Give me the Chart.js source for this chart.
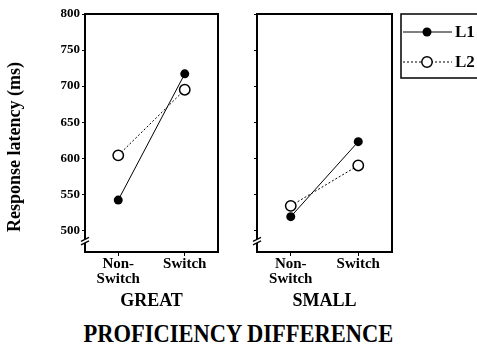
<!DOCTYPE html>
<html>
<head>
<meta charset="utf-8">
<script src="https://cdn.jsdelivr.net/npm/chart.js@4/dist/chart.umd.min.js"></script>
<style>
  body { margin: 0; background: #fff; }
  #wrap { position: relative; width: 477px; height: 347px; overflow: hidden; font-family: 'Liberation Serif', 'Times New Roman', serif; font-weight: bold; color: #000; }
  .panel { position: absolute; top: 0; }
  #ytitle { position: absolute; left: 14px; top: 147px; transform: translate(-50%, -50%) rotate(-90deg); white-space: nowrap; font-size: 18px; line-height: 18px; }
  #xtitle { position: absolute; left: 0; top: 321px; width: 477px; text-align: center; font-size: 25px; line-height: 25px; white-space: nowrap; transform: scaleX(0.9); transform-origin: 238px 0; }
  #legend { position: absolute; left: 0; top: 0; }
</style>
</head>
<body>
<div id="wrap">
  <canvas id="great" class="panel" width="225" height="310" style="left:0"></canvas>
  <canvas id="small" class="panel" width="170" height="310" style="left:230px"></canvas>
  <div id="ytitle">Response latency (ms)</div>
  <div id="xtitle">PROFICIENCY DIFFERENCE</div>
  <svg id="legend" width="477" height="100">
    <rect x="401" y="14" width="90" height="64" fill="none" stroke="#000" stroke-width="1.5"/>
    <line x1="403" y1="32" x2="452" y2="32" stroke="#000" stroke-width="1"/>
    <circle cx="427" cy="32" r="4.5" fill="#000"/>
    <text x="455" y="37" font-family="Liberation Serif" font-weight="bold" font-size="17">L1</text>
    <line x1="403" y1="62" x2="452" y2="62" stroke="#000" stroke-width="1" stroke-dasharray="2 2"/>
    <circle cx="427" cy="62" r="5.2" fill="#fff" stroke="#000" stroke-width="1.5"/>
    <text x="455" y="67" font-family="Liberation Serif" font-weight="bold" font-size="17">L2</text>
  </svg>
</div>
<script>
// data (ms)
const categories = [['Non-', 'Switch'], 'Switch'];
const greatL1 = [542, 717];
const greatL2 = [604, 695];
const smallL1 = [519, 623];
const smallL2 = [534, 590];
const seriesNames = ['L1', 'L2'];
const yMin = 470, yMax = 800, yStep = 50, yFirstTick = 500;
const breakValue = 484;

const FONT = 'Liberation Serif';

// box around plot area + the // axis break
const framePlugin = {
    id: 'frame',
    afterDraw(chart) {
        const ctx = chart.ctx;
        const a = chart.chartArea;
        const by = chart.scales.y.getPixelForValue(breakValue);
        const l = a.left;
        ctx.save();
        ctx.strokeStyle = '#000';
        ctx.lineWidth = 2;
        ctx.strokeRect(a.left, a.top, a.right - a.left, a.bottom - a.top);
        // axis break
        ctx.fillStyle = '#fff';
        ctx.beginPath();
        ctx.moveTo(l - 3.5, by - 1);
        ctx.lineTo(l + 3.5, by - 4.5);
        ctx.lineTo(l + 3.5, by - 1);
        ctx.lineTo(l - 3.5, by + 2.5);
        ctx.closePath();
        ctx.fill();
        ctx.lineWidth = 1.2;
        ctx.beginPath();
        ctx.moveTo(l - 4, by - 0.5); ctx.lineTo(l + 4, by - 4.5);
        ctx.moveTo(l - 4, by + 3); ctx.lineTo(l + 4, by - 1);
        ctx.stroke();
        ctx.restore();
    }
};

function makePanel(id, title, l1, l2, showYLabels, yWidth, padRight) {
    new Chart(document.getElementById(id), {
        type: 'line',
        data: {
            labels: categories,
            datasets: [
                {
                    label: seriesNames[0],
                    data: l1,
                    borderColor: '#000',
                    borderWidth: 1,
                    backgroundColor: '#000',
                    pointRadius: 4.5,
                    pointBorderWidth: 0,
                    pointBackgroundColor: '#000'
                },
                {
                    label: seriesNames[1],
                    data: l2,
                    borderColor: '#000',
                    borderWidth: 1,
                    borderDash: [2, 2],
                    pointRadius: 5.2,
                    pointBorderWidth: 1.5,
                    pointBorderColor: '#000',
                    pointBackgroundColor: '#fff'
                }
            ]
        },
        options: {
            responsive: false,
            animation: false,
            devicePixelRatio: 1,
            layout: { padding: { left: 0, right: padRight, top: 14, bottom: 0 } },
            plugins: { legend: { display: false }, tooltip: { enabled: false } },
            scales: {
                x: {
                    offset: true,
                    border: { display: false },
                    grid: { display: true, drawOnChartArea: false, drawTicks: true, tickLength: 4, color: '#000' },
                    ticks: {
                        color: '#000', padding: 1, maxRotation: 0, autoSkip: false,
                        font: { family: FONT, size: 15, weight: 'bold', lineHeight: 1 }
                    },
                    title: {
                        display: true, text: title, color: '#000', padding: 0,
                        font: { family: FONT, size: 18, weight: 'bold', lineHeight: 1 }
                    },
                    afterFit(scale) { scale.height = 58; }
                },
                y: {
                    min: yMin,
                    max: yMax,
                    border: { display: false },
                    grid: { display: true, drawOnChartArea: false, drawTicks: true, tickLength: 3, color: '#000' },
                    ticks: {
                        stepSize: yStep, color: '#000', padding: 2, display: showYLabels,
                        font: { family: FONT, size: 13, weight: 'bold' }
                    },
                    afterBuildTicks(scale) {
                        scale.ticks = scale.ticks.filter(t => t.value >= yFirstTick);
                    },
                    afterFit(scale) { scale.width = yWidth; }
                }
            }
        },
        plugins: [framePlugin]
    });
}

makePanel('great', 'GREAT', greatL1, greatL2, true, 85, 7);
makePanel('small', 'SMALL', smallL1, smallL2, false, 27, 8);
</script>
</body>
</html>
